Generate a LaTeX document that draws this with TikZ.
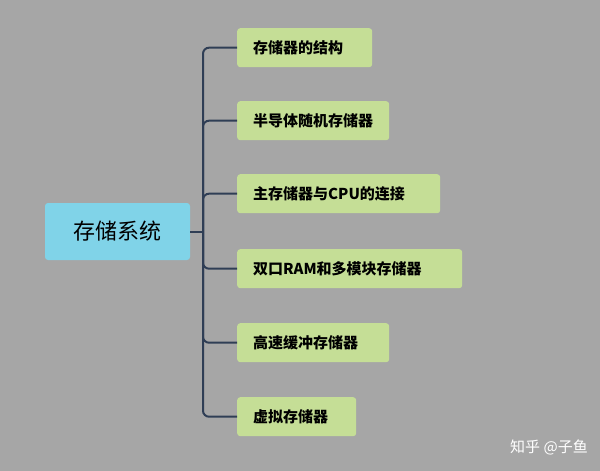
\documentclass[tikz,border=0pt]{standalone}
\usepackage{fontspec}
\setmainfont{Noto Sans CJK SC}
\definecolor{bg}{RGB}{166,166,166}
\definecolor{leafc}{RGB}{197,222,150}
\definecolor{rootc}{RGB}{128,211,232}
\definecolor{linec}{RGB}{47,62,85}
\begin{document}
\begin{tikzpicture}[x=1pt,y=-1pt,
  leaf/.style={fill=leafc,rounded corners=3pt,anchor=north west,inner xsep=0pt,inner ysep=0pt,font=\fontsize{15}{17}\selectfont\bfseries},
  link/.style={draw=linec,line width=2pt,rounded corners=6pt}]
\fill[bg] (0,0) rectangle (600,471);
\node[fill=rootc,rounded corners=3pt,minimum width=145pt,minimum height=57pt,font=\fontsize{22}{26}\selectfont] (root) at (117.5,231.5) {存储系统};
\coordinate (t) at (203,231.5);
\foreach \n/\y/\r/\txt in {a/28/372/存储器的结构, b/101/389/半导体随机存储器, c/174/440/主存储器与CPU的连接, d/249/462/双口RAM和多模块存储器, e/323/389/高速缓冲存储器, f/397/356/虚拟存储器}{
  \node[leaf,minimum width={\r-237},minimum height=39pt] (\n) at (237,\y) {};
  \node[anchor=west,inner sep=0pt,font=\fontsize{15}{17}\selectfont\bfseries] (\n t) at ([xshift=16pt]\n.west) {\txt};
  \draw[link] (t) |- (\n.west);
}
\draw[link] (root.east) -- (t);
\node[text=white,font=\fontsize{15}{18}\selectfont] (wm) at (549,447) {知乎 @子鱼};
\end{tikzpicture}
\end{document}
